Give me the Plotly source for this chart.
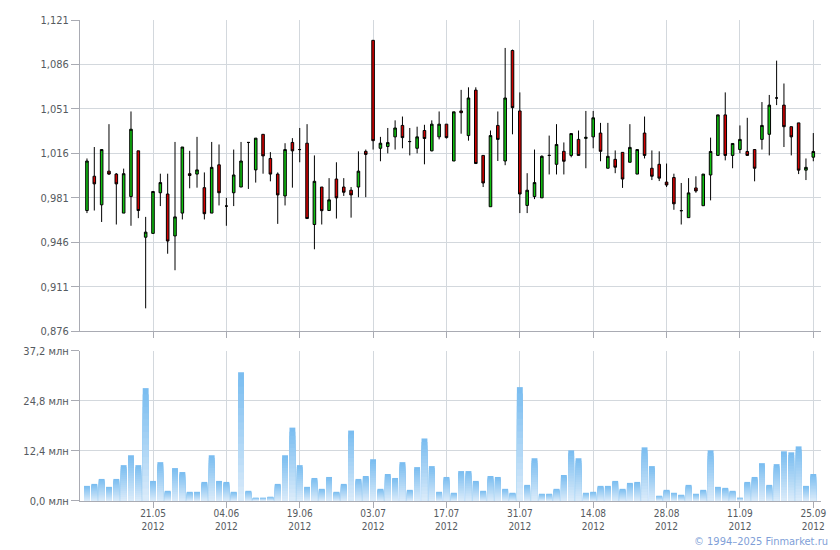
import plotly.graph_objects as go
import pandas as pd

# ---- data -------------------------------------------------------------
holidays = ["2012-05-07", "2012-05-08", "2012-05-09", "2012-06-11", "2012-06-12"]
work_saturdays = ["2012-05-05", "2012-05-12", "2012-06-09"]

open_ = [0.971, 0.998, 0.9755, 1.002, 0.9997, 0.969, 0.982, 1.018, 0.950, 0.953,
         0.985, 0.984, 0.951, 0.969, 1.000, 0.9997, 0.989, 0.969, 1.007, 0.9745,
         0.985, 0.9895, 1.0246, 1.003, 1.031, 1.012, 0.9997, 0.9825, 1.0246, 1.019,
         1.024, 0.960, 0.9895, 0.971, 0.9958, 0.9895, 0.987, 0.9895, 1.0176, 1.105,
         1.020, 1.0214, 1.029, 1.038, 1.0253, 1.020, 1.034, 1.018, 1.029, 1.039,
         1.010, 1.0494, 1.030, 1.0658, 1.0144, 0.974, 1.038, 1.010, 1.097, 1.0494,
         0.975, 0.982, 0.981, 1.0144, 1.0074, 1.0176, 1.0144, 1.027, 1.0278, 1.029,
         1.032, 1.0043, 1.0113, 1.0168, 1.009, 0.9997, 1.032, 1.0043, 1.0074, 0.9934,
         0.997, 0.9709, 0.9654, 0.9888, 0.9748, 0.999, 1.0144, 1.0463, 1.0144, 1.019,
         1.0175, 1.019, 1.027, 1.031, 1.0596, 1.054, 1.037, 1.040, 1.0028, 1.013]
high = [1.012, 1.021, 1.019, 1.039, 1.0005, 1.004, 1.049, 1.018, 0.966, 0.986,
        1.000, 1.000, 1.025, 1.021, 1.018, 1.029, 1.001, 1.025, 1.023, 0.981,
        1.019, 1.025, 1.0246, 1.028, 1.031, 1.017, 1.001, 1.024, 1.028, 1.036,
        1.039, 1.0144, 0.9895, 0.9965, 1.009, 0.9965, 0.9895, 1.0176, 1.019, 1.105,
        1.029, 1.036, 1.042, 1.045, 1.036, 1.037, 1.0385, 1.042, 1.049, 1.039,
        1.0487, 1.066, 1.068, 1.068, 1.0144, 1.034, 1.049, 1.099, 1.0977, 1.064,
        1.0004, 1.019, 1.0144, 1.030, 1.039, 1.0246, 1.0316, 1.034, 1.0494, 1.0494,
        1.040, 1.040, 1.0183, 1.0168, 1.039, 1.019, 1.045, 1.0183, 1.0176, 1.008,
        1.000, 0.9927, 0.9965, 0.998, 0.9997, 1.0284, 1.0463, 1.064, 1.0238, 1.038,
        1.044, 1.019, 1.0564, 1.062, 1.089, 1.071, 1.037, 1.040, 1.012, 1.032]
low = [0.969, 0.971, 0.962, 0.999, 0.960, 0.969, 0.959, 0.965, 0.894, 0.953,
       0.9745, 0.937, 0.924, 0.964, 0.9885, 0.989, 0.964, 0.969, 0.975, 0.959,
       0.9745, 0.9895, 0.988, 0.993, 1.000, 0.994, 0.9605, 0.975, 0.989, 1.009,
       0.9647, 0.9405, 0.960, 0.971, 0.9647, 0.9825, 0.9654, 0.9815, 0.9815, 1.019,
       1.0098, 1.016, 1.019, 1.020, 1.0144, 1.016, 1.0074, 1.0176, 1.027, 1.0277,
       1.010, 1.0315, 1.026, 1.008, 0.9895, 0.974, 1.010, 1.0067, 1.031, 0.969,
       0.969, 0.980, 0.981, 0.9994, 0.9994, 0.9994, 1.0129, 1.0144, 1.0043, 1.020,
       1.0098, 1.0043, 1.0004, 0.9888, 1.009, 0.9997, 1.012, 0.995, 0.9942, 0.9895,
       0.9716, 0.960, 0.9654, 0.985, 0.9748, 0.979, 1.0144, 1.0105, 1.0043, 1.016,
       1.0144, 0.994, 1.019, 1.0144, 1.054, 1.021, 1.0144, 0.9997, 0.995, 1.0098]
close = [1.010, 0.992, 1.019, 0.9997, 0.992, 1.000, 1.035, 0.971, 0.954, 0.986,
         0.993, 0.947, 0.966, 1.021, 0.9986, 1.003, 0.9685, 1.005, 0.985, 0.9745,
         0.999, 1.010, 1.0246, 1.028, 1.014, 0.9997, 0.9833, 1.019, 1.018, 1.019,
         0.9647, 0.994, 0.9709, 0.9794, 0.981, 0.9854, 0.9833, 1.002, 1.0152, 1.026,
         1.024, 1.0245, 1.036, 1.0284, 1.0253, 1.029, 1.0277, 1.039, 1.039, 1.0284,
         1.0487, 1.048, 1.0596, 1.008, 0.9927, 1.030, 1.027, 1.0596, 1.052, 0.984,
         0.987, 0.993, 1.0137, 1.0144, 1.023, 1.0098, 1.0316, 1.0144, 1.0286, 1.044,
         1.0176, 1.0137, 1.0051, 0.9958, 1.0207, 1.019, 1.0144, 0.998, 0.9965, 0.9911,
         0.9763, 0.9709, 0.9849, 0.9864, 0.9997, 1.0175, 1.0463, 1.0144, 1.0238, 1.027,
         1.0144, 1.0043, 1.038, 1.054, 1.0596, 1.037, 1.029, 1.0028, 1.005, 1.0175]
volume_mln = [3.75, 4.24, 5.47, 3.51, 5.47, 8.89, 11.34, 8.89, 27.98, 4.98,
              9.63, 2.53, 8.16, 7.18, 2.28, 2.28, 4.73, 11.34, 4.98, 4.73,
              2.28, 31.9, 2.53, 0.82, 0.82, 1.06, 4.24, 11.34, 18.19, 8.89,
              3.51, 5.71, 3.02, 5.96, 2.28, 4.24, 17.46, 5.47, 6.2, 10.36,
              3.02, 6.69, 5.71, 9.63, 2.77, 8.4, 15.5, 8.65, 2.28, 5.96,
              2.04, 7.42, 7.42, 4.98, 2.53, 6.2, 5.96, 3.02, 2.04, 28.23,
              4.0, 10.6, 1.8, 1.8, 3.02, 6.44, 12.56, 10.6, 2.04, 2.28,
              3.75, 3.75, 4.98, 3.02, 4.49, 4.73, 13.3, 8.65, 1.31, 2.77,
              2.04, 1.55, 4.0, 1.8, 2.77, 12.56, 3.51, 3.26, 2.53, 0.82,
              4.73, 5.96, 9.38, 4.0, 9.14, 12.32, 12.07, 13.54, 3.75, 6.69]

tick_dates = ["2012-05-21", "2012-06-04", "2012-06-19", "2012-07-03", "2012-07-17",
              "2012-07-31", "2012-08-14", "2012-08-28", "2012-09-11", "2012-09-25"]
tick_labels = ["21.05<br>2012", "04.06<br>2012", "19.06<br>2012", "03.07<br>2012",
               "17.07<br>2012", "31.07<br>2012", "14.08<br>2012", "28.08<br>2012",
               "11.09<br>2012", "25.09<br>2012"]
price_ticks = [0.876, 0.911, 0.946, 0.981, 1.016, 1.051, 1.086, 1.121]
vol_ticks = [0.0, 12.4, 24.8, 37.2]
vol_tick_labels = ["0,0 млн", "12,4 млн", "24,8 млн", "37,2 млн"]

# trading calendar
days = pd.bdate_range("2012-05-05", "2012-09-25", freq="C", holidays=holidays)
days = days.union(pd.to_datetime(work_saturdays))
dates = [d.strftime("%Y-%m-%d") for d in days]
assert len(dates) == len(open_), len(dates)

# ---- figure -----------------------------------------------------------
GRID = "#d3d8dd"
AXIS = "#a9abb3"
TXT = "#555a60"
FONT = "DejaVu Sans Condensed, DejaVu Sans"

fig = go.Figure()
fig.add_trace(go.Candlestick(
    x=dates, open=open_, high=high, low=low, close=close,
    increasing=dict(line=dict(color="black", width=1), fillcolor="#10c010"),
    decreasing=dict(line=dict(color="black", width=1), fillcolor="#d00000"),
    whiskerwidth=0, xaxis="x", yaxis="y", hoverinfo="skip", showlegend=False,
))

# volume bars with a vertical gradient (dark at top, light at bottom)
N = 18
top_rgb = (120, 188, 240)
bot_rgb = (220, 236, 250)
for k in range(N):
    frac = 1 - k / N
    mid = frac - 0.5 / N
    c = tuple(int(round(b + (t - b) * mid)) for t, b in zip(top_rgb, bot_rgb))
    fig.add_trace(go.Bar(
        x=dates, y=[v * frac for v in volume_mln],
        marker=dict(color="rgb(%d,%d,%d)" % c, line=dict(width=0)),
        width=0.8, xaxis="x2", yaxis="y2", hoverinfo="skip", showlegend=False,
    ))

xcommon = dict(
    type="category", range=[-0.95, 100.05], tickmode="array", tickvals=tick_dates,
    showgrid=True, gridcolor=GRID, gridwidth=1, showline=True, linecolor=AXIS,
    ticks="outside", ticklen=6, tickcolor=AXIS, zeroline=False, fixedrange=True,
)
fig.update_layout(
    width=832, height=542,
    margin=dict(l=72, r=19, t=6, b=49),
    paper_bgcolor="white", plot_bgcolor="white",
    font=dict(family=FONT, size=11, color=TXT),
    separators=", ",
    barmode="overlay", bargap=0.2, boxgap=0.5,
    xaxis=dict(**xcommon, domain=[0, 1], anchor="y", showticklabels=False,
               rangeslider=dict(visible=False)),
    xaxis2=dict(**xcommon, domain=[0, 1], anchor="y2", ticktext=tick_labels,
                ticklabelstandoff=-3,
                tickfont=dict(family=FONT, size=10, color=TXT)),
    yaxis=dict(domain=[0.353, 1], range=[0.876, 1.121], tickmode="array",
               tickvals=price_ticks, tickformat=".3f", showgrid=True, gridcolor=GRID,
               showline=True, linecolor=AXIS, ticks="outside", ticklen=8,
               tickcolor=AXIS, zeroline=False, fixedrange=True),
    yaxis2=dict(domain=[0, 0.312], range=[0, 37.2], tickmode="array",
                tickvals=vol_ticks, ticktext=vol_tick_labels, showgrid=True,
                gridcolor=GRID, showline=True, linecolor=AXIS, ticks="outside",
                ticklen=8, tickcolor=AXIS, zeroline=False, fixedrange=True),
    annotations=[dict(text="© 1994–2025 Finmarket.ru", xref="paper", yref="paper",
                      x=1.012, y=-0.084, xanchor="right", yanchor="middle", showarrow=False,
                      font=dict(family=FONT, size=11, color="#7f9fd8"))],
)

fig.write_html("out.html", config={"displayModeBar": False})
